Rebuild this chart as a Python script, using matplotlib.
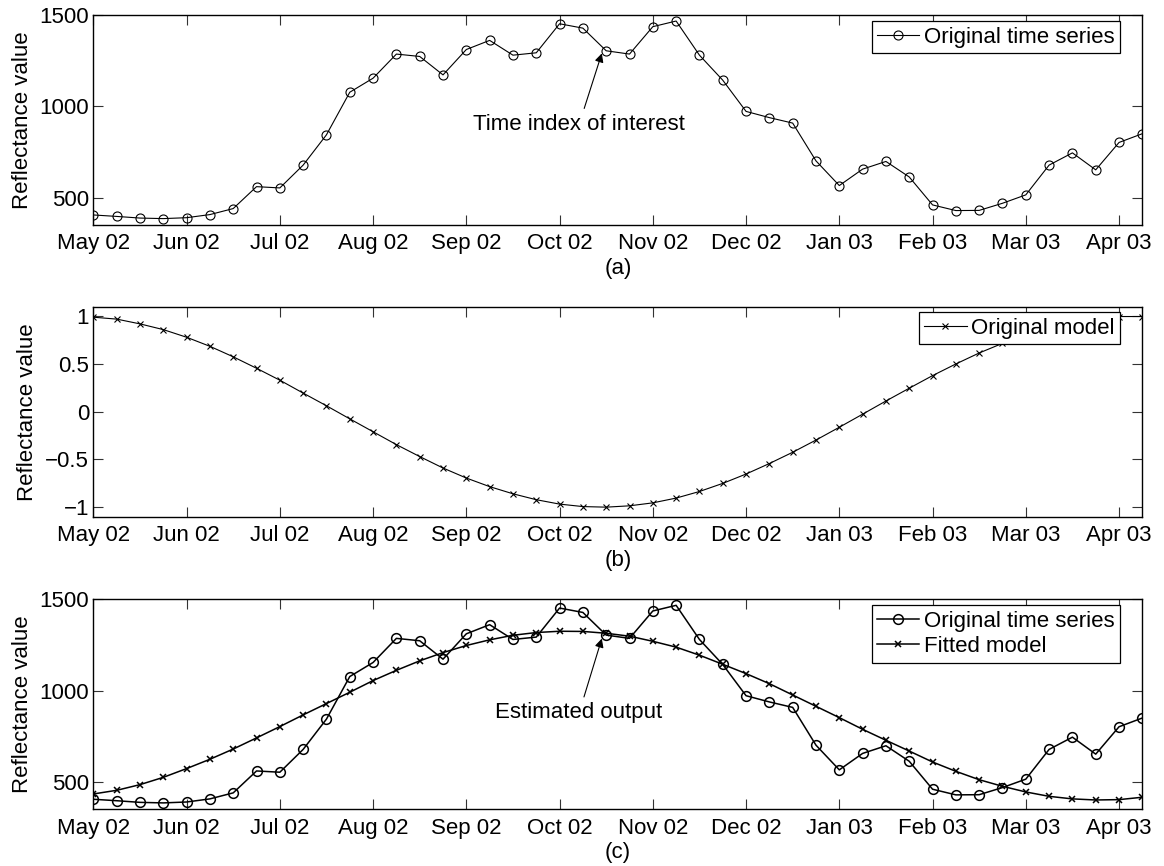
import pandas as pd
import matplotlib
matplotlib.use("Agg")
import matplotlib.pyplot as plt
from matplotlib.ticker import FuncFormatter

plt.rcParams['font.family'] = ['Liberation Sans', 'DejaVu Sans']
plt.rcParams['font.size'] = 16

# 8-day composites, May 2002 - Apr 2003
fechas = pd.date_range('2002-05-01', periods=46, freq='8D')

serie_original = [405, 397, 388, 385, 390, 407, 440, 560, 553, 678,
                  844, 1077, 1154, 1286, 1273, 1172, 1311, 1361, 1280, 1293,
                  1452, 1428, 1304, 1286, 1436, 1467, 1280, 1143, 972, 938,
                  908, 701, 566, 656, 698, 613, 460, 429, 430, 469,
                  515, 678, 745, 652, 802, 850]

modelo_original = [0.99, 0.97, 0.92, 0.86, 0.78, 0.685, 0.575, 0.455, 0.33, 0.195,
                   0.062, -0.075, -0.21, -0.345, -0.47, -0.59, -0.695, -0.785, -0.86, -0.922,
                   -0.968, -0.994, -1.0, -0.986, -0.955, -0.905, -0.836, -0.751, -0.653, -0.543,
                   -0.425, -0.297, -0.163, -0.026, 0.112, 0.246, 0.378, 0.5, 0.615, 0.716,
                   0.81, 0.888, 0.944, 0.981, 0.997, 0.997]

modelo_ajustado = [434, 454, 485, 525, 573, 624, 680, 741, 803, 867,
                   929, 991, 1055, 1111, 1163, 1208, 1247, 1278, 1303, 1318,
                   1325, 1324, 1314, 1298, 1270, 1238, 1194, 1144, 1093, 1038,
                   976, 914, 852, 788, 728, 669, 609, 558, 512, 476,
                   445, 421, 407, 401, 403, 416]

ticks = fechas[::4]
etiquetas = [f.strftime('%b %y') for f in ticks]

fig = plt.figure(figsize=(11.64, 8.66), dpi=100)
izq, ancho, alto = 0.0802, 0.9012, 0.2425
ax_a = fig.add_axes([izq, 1 - 225 / 866, ancho, alto])
ax_b = fig.add_axes([izq, 1 - 516.7 / 866, ancho, alto])
ax_c = fig.add_axes([izq, 1 - 809.3 / 866, ancho, alto])


def estilo(ax, sub):
    ax.set_xlim(fechas[0], fechas[-1])
    ax.set_xticks(ticks)
    ax.set_xticklabels(etiquetas)
    ax.tick_params(direction='in', length=7, width=0.8, top=True, right=True,
                   color='#333333')
    ax.tick_params(axis='x', pad=6)
    ax.tick_params(axis='y', pad=3)
    for s in ax.spines.values():
        s.set_linewidth(1.0)
    ax.set_xlabel(sub, labelpad=2.5)
    ax.set_ylabel('Reflectance value', labelpad=5)


def leyenda(ax, y):
    ax.legend(loc='upper right', bbox_to_anchor=(0.9787, y), borderaxespad=0,
              fancybox=False, framealpha=1, edgecolor='black', borderpad=0.25,
              handlelength=1.9, handletextpad=0.2, labelspacing=0.2,
              fontsize=16).get_frame().set_linewidth(0.9)


# (a)
ax_a.plot(fechas, serie_original, 'k-o', lw=0.8, ms=6.5, mfc='none', mew=0.8,
          label='Original time series')
ax_a.set_ylim(350, 1500)
ax_a.set_yticks([500, 1000, 1500])
estilo(ax_a, '(a)')
leyenda(ax_a, 0.971)
ax_a.annotate('Time index of interest', xy=(fechas[22] - pd.Timedelta(days=1.5), 1290),
              xytext=(fechas[22] - pd.Timedelta(days=9.3), 901), ha='center', va='center',
              arrowprops=dict(arrowstyle='-|>', color='k', lw=0.8, mutation_scale=13,
                              shrinkA=2, shrinkB=0))

# (b)
ax_b.plot(fechas, modelo_original, 'k-x', lw=0.8, ms=5, mew=0.8, label='Original model')
ax_b.set_ylim(-1.1, 1.1)
ax_b.set_yticks([-1, -0.5, 0, 0.5, 1])
ax_b.yaxis.set_major_formatter(FuncFormatter(lambda v, p: ('%g' % v).replace('-', '\u2212')))
estilo(ax_b, '(b)')
leyenda(ax_b, 0.975)

# (c)
ax_c.plot(fechas, serie_original, 'k-o', lw=1.1, ms=7, mfc='none', mew=1.1,
          label='Original time series')
ax_c.plot(fechas, modelo_ajustado, 'k-x', lw=1.1, ms=5, mew=1.1, label='Fitted model')
ax_c.set_ylim(350, 1500)
ax_c.set_yticks([500, 1000, 1500])
estilo(ax_c, '(c)')
leyenda(ax_c, 0.973)
ax_c.annotate('Estimated output', xy=(fechas[22] - pd.Timedelta(days=1.5), 1285),
              xytext=(fechas[22] - pd.Timedelta(days=9.3), 878), ha='center', va='center',
              arrowprops=dict(arrowstyle='-|>', color='k', lw=0.8, mutation_scale=13,
                              shrinkA=2, shrinkB=0))

fig.savefig('out.png', dpi=100)
